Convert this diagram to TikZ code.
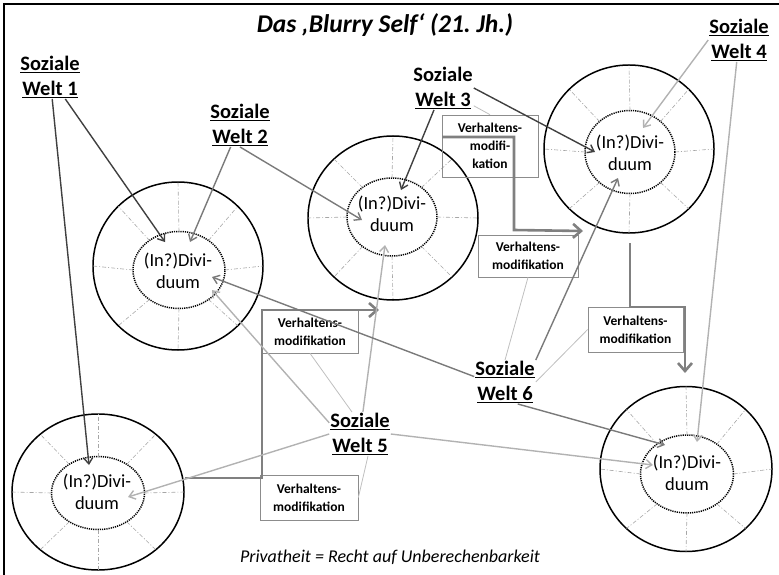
\documentclass[tikz,border=0pt]{standalone}
\usepackage{fontspec}
\setmainfont{Carlito}
\usetikzlibrary{shapes.geometric,arrows.meta}
\begin{document}
\begin{tikzpicture}[x=1pt,y=-1pt,
  outer/.style={ellipse, draw=black, line width=1.5pt, inner sep=0pt, outer sep=0pt},
  inner/.style={ellipse, draw=black, line width=1.5pt, dash pattern=on 1.2pt off 1pt, inner sep=0pt, outer sep=0pt},
  spoke/.style={draw=black!35, line width=0.6pt, dash pattern=on 4pt off 2pt on 1pt off 2pt},
  world/.style={font=\bfseries\fontsize{20.5}{25}\selectfont, align=center, inner sep=1pt},
  idv/.style={font=\fontsize{18.5}{22}\selectfont, align=center, inner sep=0pt},
  modbox/.style={draw=black!45, line width=0.7pt, font=\bfseries\fontsize{13.5}{18}\selectfont, align=center, inner sep=0pt},
  tip/.style={-{Straight Barb[length=6pt,width=9pt]}, line width=1.4pt},
  dk/.style={tip, draw=black!75},
  md/.style={tip, draw=black!52},
  lt/.style={tip, draw=black!30},
  link/.style={draw=black!25, line width=0.8pt},
  mpath/.style={draw=black!50, line width=2.6pt, -{Straight Barb[length=8pt,width=14pt]}}
]
\useasboundingbox (0,0) rectangle (779,575);
\draw[line width=1.5pt] (4,575) -- (4,4) -- (779,4);

% title and footer
\node[font=\bfseries\itshape\fontsize{25.5}{28}\selectfont] (title) at (385,25) {Das ‚Blurry Self‘ (21.~Jh.)};
\node[font=\itshape\fontsize{18}{20}\selectfont] (foot) at (390,557) {Privatheit = Recht auf Unberechenbarkeit};

% circles
\node[outer, minimum width=170, minimum height=168] (c1) at (178,266) {};
\node[inner, minimum width=92, minimum height=77] (c1i) at (179,270) {};
\node[outer, minimum width=170, minimum height=164] (c2) at (393,218) {};
\node[inner, minimum width=90, minimum height=78] (c2i) at (392,217) {};
\node[outer, minimum width=170, minimum height=168] (c3) at (629,149) {};
\node[inner, minimum width=90, minimum height=83] (c3i) at (630,152) {};
\node[outer, minimum width=172, minimum height=156] (c4) at (98,492) {};
\node[inner, minimum width=93, minimum height=73] (c4i) at (98,493) {};
\node[outer, minimum width=172, minimum height=165] (c5) at (686,469) {};
\node[inner, minimum width=93, minimum height=78] (c5i) at (687,474) {};

\foreach \c in {c1,c2,c3,c4,c5}{
  \foreach \a in {0,45,...,315}{
    \draw[spoke] (\c i.\a) -- (\c.\a);
  }
}

\node[idv] (t1) at (178,271) {(In?)Divi-\\duum};
\node[idv] (t2) at (392,214) {(In?)Divi-\\duum};
\node[idv] (t3) at (630,153) {(In?)Divi-\\duum};
\node[idv] (t4) at (97,492) {(In?)Divi-\\duum};
\node[idv] (t5) at (687,473) {(In?)Divi-\\duum};

% social worlds
\node[world] (sw1) at (50,77) {\underline{Soziale}\\\underline{Welt 1}};
\node[world] (sw2) at (240,125) {\underline{Soziale}\\\underline{Welt 2}};
\node[world] (sw3) at (443,88) {Soziale\\\underline{Welt 3}};
\node[world] (sw4) at (739,40) {\underline{Soziale}\\\underline{Welt 4}};
\node[world] (sw5) at (360,434) {\underline{Soziale}\\\underline{Welt 5}};
\node[world] (sw6) at (505,382) {\underline{Soziale}\\\underline{Welt 6}};

% behaviour modification boxes
\node[modbox, minimum width=96, minimum height=62] (b1) at (490,146) {Verhaltens-\\modifi-\\kation};
\node[modbox, minimum width=100, minimum height=42] (b2) at (528,256) {Verhaltens-\\modifikation};
\node[modbox, minimum width=96, minimum height=43] (b3) at (310,331.5) {Verhaltens-\\modifikation};
\node[modbox, minimum width=98, minimum height=45] (b4) at (309,497.5) {Verhaltens-\\modifikation};
\node[modbox, minimum width=95, minimum height=45] (b5) at (635.5,329.5) {Verhaltens-\\modifikation};

% arrow tips
\coordinate (e1) at (165,242);
\coordinate (e2) at (89,465);
\coordinate (e3) at (190,242);
\coordinate (e4) at (362,220);
\coordinate (e5) at (401,190);
\coordinate (e6) at (595,152);
\coordinate (e7) at (643,128);
\coordinate (e8) at (697,442);
\coordinate (e9) at (212,290);
\coordinate (e10) at (385,245);
\coordinate (e11) at (128,497);
\coordinate (e12) at (653,465);
\coordinate (e13) at (212,277);
\coordinate (e14) at (618,178);
\coordinate (e15) at (665,445);

% links to boxes
\draw[link] (sw3.-30) -- (b1.north);
\draw[link] (sw5.110) -- (b3.south);
\draw[link] (sw5.-70) -- (b4.east);
\draw[link] (sw6.north) -- (b2.south);
\draw[link] (sw6.east) -- (b5.west);

% thick modification paths
\coordinate (p1a) at (442,137);
\coordinate (p1b) at (514,137);
\coordinate (p1c) at (514,230);
\coordinate (p1d) at (583,231);
\draw[mpath] (p1a) -- (p1b) -- (p1c) -- (p1d);
\coordinate (p2a) at (185,478);
\coordinate (p2b) at (262,478);
\coordinate (p2c) at (262,310);
\coordinate (p2d) at (379,310);
\draw[mpath] (p2a) -- (p2b) -- (p2c) -- (p2d);
\coordinate (p3a) at (630,243);
\coordinate (p3b) at (630,307);
\coordinate (p3c) at (685,307);
\coordinate (p3d) at (685,373);
\draw[mpath] (p3a) -- (p3b) -- (p3c) -- (p3d);

% influence arrows
\draw[dk] (sw1) -- (e1);
\draw[dk] (sw1) -- (e2);
\draw[md] (sw2) -- (e3);
\draw[md] (sw2.south) -- (e4);
\draw[dk] (sw3) -- (e5);
\draw[dk] (sw3.east) -- (e6);
\draw[lt] (sw4.west) -- (e7);
\draw[lt] (sw4) -- (e8);
\draw[lt] (sw5.160) -- (e9);
\draw[lt] (sw5) -- (e10);
\draw[lt] (sw5.west) -- (e11);
\draw[lt] (sw5.east) -- (e12);
\draw[md] (sw6.170) -- (e13);
\draw[md] (sw6.north east) -- (e14);
\draw[md] (sw6.-60) -- (e15);
\end{tikzpicture}
\end{document}
